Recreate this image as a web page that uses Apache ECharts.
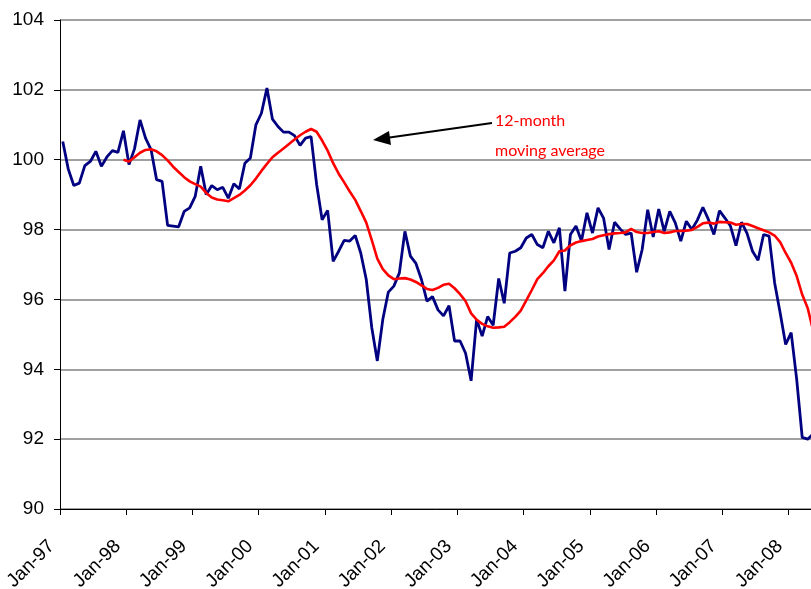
<!DOCTYPE html>
<html>
<head>
<meta charset="utf-8">
<script src="https://cdn.jsdelivr.net/npm/echarts@6/dist/echarts.min.js"></script>
<style>
html,body{margin:0;padding:0;background:#fff;}
#chart{width:811px;height:589px;}
</style>
</head>
<body>
<div id="chart"></div>
<script>
// Monthly categories Jan-97 .. May-08
var monthNames = ['Jan','Feb','Mar','Apr','May','Jun','Jul','Aug','Sep','Oct','Nov','Dec'];
var startYear = 1997, monthCount = 137;
var categories = [];
for (var k = 0; k < monthCount; k++) {
  var yy = startYear + Math.floor(k / 12);
  categories.push(monthNames[k % 12] + '-' + String(yy).slice(2));
}

// Monthly index (blue)
var monthly = [
  100.52, 99.73, 99.26, 99.33, 99.83, 99.95, 100.24, 99.81, 100.08, 100.26, 100.21, 100.83,
  99.86, 100.31, 101.14, 100.62, 100.29, 99.43, 99.38, 98.12, 98.10, 98.08, 98.52, 98.62,
  98.95, 99.81, 99.00, 99.26, 99.14, 99.21, 98.90, 99.31, 99.16, 99.90, 100.05, 101.00,
  101.33, 102.05, 101.16, 100.95, 100.79, 100.79, 100.69, 100.41, 100.62, 100.66, 99.30, 98.28,
  98.55, 97.09, 97.38, 97.69, 97.67, 97.83, 97.33, 96.57, 95.19, 94.24, 95.43, 96.21,
  96.38, 96.76, 97.95, 97.24, 97.03, 96.57, 95.95, 96.08, 95.70, 95.53, 95.82, 94.81,
  94.81, 94.46, 93.67, 95.43, 94.95, 95.51, 95.26, 96.60, 95.89, 97.33, 97.38, 97.48,
  97.76, 97.86, 97.57, 97.48, 97.95, 97.62, 98.05, 96.24, 97.86, 98.10, 97.67, 98.48,
  97.90, 98.62, 98.33, 97.43, 98.21, 98.02, 97.86, 97.90, 96.78, 97.43, 98.57, 97.79,
  98.59, 97.95, 98.52, 98.19, 97.67, 98.24, 98.00, 98.27, 98.64, 98.29, 97.86, 98.54,
  98.33, 98.10, 97.54, 98.21, 97.89, 97.38, 97.12, 97.86, 97.81, 96.48, 95.62, 94.71,
  95.05, 93.71, 92.05, 92.00, 92.15
];

// 12-month moving average (red); first value at Dec-97
var movingAvg = [
  '-', '-', '-', '-', '-', '-', '-', '-', '-', '-', '-', 100.00,
  99.95, 100.07, 100.20, 100.28, 100.30, 100.24, 100.13, 99.98, 99.80, 99.65, 99.50, 99.38,
  99.30, 99.23, 99.05, 98.92, 98.86, 98.84, 98.81, 98.90, 98.99, 99.12, 99.27, 99.46,
  99.68, 99.88, 100.07, 100.20, 100.32, 100.45, 100.58, 100.70, 100.80, 100.88, 100.80, 100.55,
  100.26, 99.90, 99.60, 99.35, 99.09, 98.85, 98.53, 98.20, 97.70, 97.17, 96.87, 96.69,
  96.58, 96.60, 96.61, 96.57, 96.50, 96.40, 96.30, 96.27, 96.33, 96.42, 96.45, 96.32,
  96.15, 95.95, 95.60, 95.42, 95.30, 95.23, 95.19, 95.20, 95.22, 95.35, 95.50, 95.68,
  95.97, 96.27, 96.58, 96.75, 96.95, 97.12, 97.38, 97.40, 97.55, 97.63, 97.67, 97.70,
  97.73, 97.80, 97.84, 97.87, 97.89, 97.90, 97.92, 98.02, 97.93, 97.90, 97.90, 97.93,
  97.95, 97.90, 97.92, 97.96, 97.96, 97.97, 97.99, 98.08, 98.18, 98.20, 98.17, 98.22,
  98.21, 98.20, 98.14, 98.16, 98.16, 98.10, 98.04, 97.98, 97.92, 97.83, 97.64, 97.33,
  97.05, 96.67, 96.14, 95.75, 95.10
];

var yTicks = {min: 90, max: 104, interval: 2};
var annotationLines = ['12-month', 'moving average'];

var chart = echarts.init(document.getElementById('chart'), null, {renderer: 'canvas'});
chart.setOption({
  backgroundColor: '#ffffff',
  animation: false,
  grid: {left: 60, top: 20, width: 756, height: 489, containLabel: false, outerBoundsMode: 'none'},
  xAxis: {
    type: 'category',
    data: categories,
    boundaryGap: true,
    axisLine: {show: true, lineStyle: {color: '#000', width: 1}},
    axisTick: {show: true, interval: 11, length: 6, inside: false, lineStyle: {color: '#000'}},
    axisLabel: {
      interval: 11,
      rotate: 45,
      margin: 23,
      padding: [0, 16, 0, 0],
      color: '#000',
      fontFamily: 'Liberation Sans, Arial, sans-serif',
      fontSize: 19
    },
    splitLine: {show: false}
  },
  yAxis: {
    type: 'value',
    min: yTicks.min,
    max: yTicks.max,
    interval: yTicks.interval,
    axisLine: {show: true, lineStyle: {color: '#000', width: 1}},
    axisTick: {show: true, length: 6, lineStyle: {color: '#000'}},
    axisLabel: {
      margin: 16,
      color: '#000',
      fontFamily: 'Liberation Sans, Arial, sans-serif',
      fontSize: 19
    },
    splitLine: {show: true, lineStyle: {color: '#808080', width: 1.5}}
  },
  series: [
    {
      name: 'Monthly',
      type: 'line',
      data: monthly,
      showSymbol: false,
      symbol: 'none',
      lineStyle: {color: '#000080', width: 2.8},
      itemStyle: {color: '#000080'},
      z: 2
    },
    {
      name: '12-month moving average',
      type: 'line',
      data: movingAvg,
      showSymbol: false,
      symbol: 'none',
      smooth: false,
      connectNulls: false,
      lineStyle: {color: '#ff0000', width: 2.6},
      itemStyle: {color: '#ff0000'},
      z: 3
    }
  ],
  graphic: [
    {
      type: 'line',
      shape: {x1: 492, y1: 123, x2: 386, y2: 138},
      style: {stroke: '#000', lineWidth: 2},
      z: 10
    },
    {
      type: 'polygon',
      shape: {points: [[373, 140], [389, 131], [391, 145]]},
      style: {fill: '#000'},
      z: 10
    },
    {
      type: 'text',
      left: 495, top: 113,
      style: {text: annotationLines[0], fill: '#ff0000', font: '16px Lato, sans-serif'},
      z: 10
    },
    {
      type: 'text',
      left: 495, top: 143,
      style: {text: annotationLines[1], fill: '#ff0000', font: '16px Lato, sans-serif'},
      z: 10
    }
  ]
});
</script>
</body>
</html>
